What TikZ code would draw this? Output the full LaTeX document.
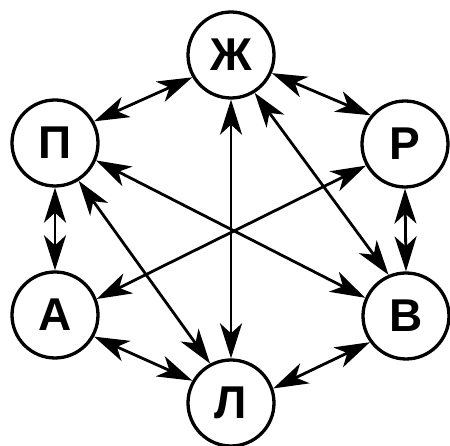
\documentclass[tikz,border=0pt]{standalone}
\usepackage{fontspec}
\setmainfont{Liberation Sans}
\usetikzlibrary{arrows.meta}
\begin{document}
\begin{tikzpicture}[x=1pt,y=1pt,
  vert/.style={circle,draw,line width=3.3pt,minimum size=86pt,inner sep=0pt,
    font=\fontsize{46pt}{46pt}\selectfont\bfseries},
  link/.style={line width=2.8pt,{Stealth[length=35pt,width=22pt,inset=10pt]}-{Stealth[length=35pt,width=22pt,inset=10pt]}}]
\useasboundingbox (0,0) rectangle (450,446);
\node[vert] (Zh) at (231,391) {Ж};
\node[vert] (P)  at (55,303)  {П};
\node[vert] (R)  at (405,302) {Р};
\node[vert] (A)  at (55,131)  {А};
\node[vert] (V)  at (406,130) {В};
\node[vert] (L)  at (231,43)  {Л};
\draw[link] (Zh.210) -- (P.29);
\draw[link] (Zh.336) -- (R.140);
\draw[link] (Zh.south) -- (L.north);
\draw[link] (Zh.302) -- (V.113);
\draw[link] (P.337) -- (V.156);
\draw[link] (R.209) -- (A.21);
\draw[link] (P.302) -- (L.118);
\draw[link] (P.south) -- (A.north);
\draw[link] (R.south) -- (V.north);
\draw[link] (A.331) -- (L.150);
\draw[link] (L.19) -- (V.216);
\end{tikzpicture}
\end{document}
